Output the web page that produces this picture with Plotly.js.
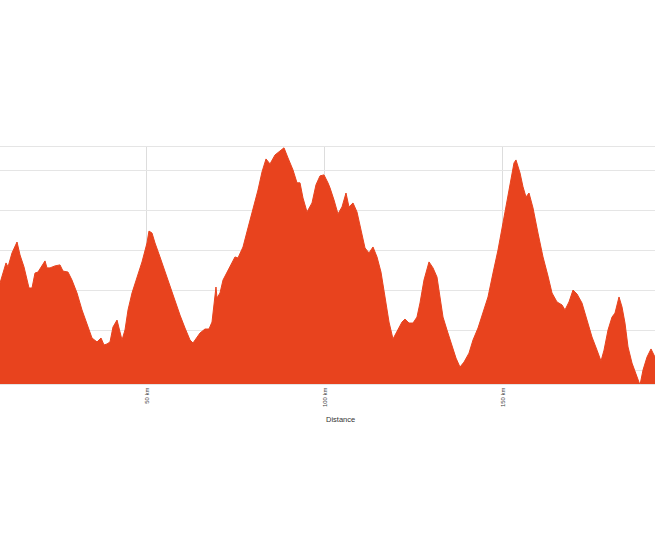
<!DOCTYPE html>
<html>
<head>
<meta charset="utf-8">
<script src="https://cdn.plot.ly/plotly-3.0.1.min.js"></script>
<style>html,body{margin:0;padding:0;background:#fff;overflow:hidden;}#chart{width:655px;height:545px;}</style>
</head>
<body>
<div id="chart"></div>
<script>
// Distance along the route (km)
const distanceKm = [8.71,10.40,10.96,12.08,13.49,14.33,15.45,16.29,16.86,17.70,18.54,19.38,20.51,21.35,21.91,22.76,24.16,25.56,26.41,27.81,28.93,30.34,31.74,33.15,34.55,35.96,37.08,37.92,38.77,39.61,40.45,41.58,42.14,42.98,43.82,44.67,45.79,47.19,48.60,50.00,50.56,51.41,52.25,53.65,55.06,56.46,57.87,59.27,60.68,62.08,62.92,63.77,64.89,66.29,67.42,68.26,69.38,69.67,70.51,71.35,72.47,73.88,74.72,75.56,76.97,78.37,79.78,81.18,82.31,83.43,84.55,85.96,87.36,88.49,89.61,91.01,92.14,92.98,93.82,94.95,96.35,97.47,98.60,99.72,100.84,101.41,102.53,103.65,104.78,105.90,106.74,107.87,108.99,110.11,111.24,112.36,113.49,114.61,115.73,116.86,117.98,119.10,120.23,121.63,122.47,123.60,124.72,125.84,126.69,127.81,129.22,130.34,131.46,132.30,133.15,134.27,135.68,136.80,137.92,139.05,140.45,141.58,142.98,144.38,145.79,147.19,148.60,150.00,151.12,152.25,153.09,153.65,154.78,155.62,156.46,157.31,158.43,159.83,161.24,162.64,163.77,165.17,166.58,167.42,168.54,169.67,170.79,172.19,173.60,175.00,176.41,177.53,178.38,179.50,180.62,181.46,182.59,183.43,184.27,185.12,186.24,187.64,188.49,189.33,190.45,191.58,192.70];
// Elevation (m)
const elevationM = [637,738,718,788,843,778,718,662,612,612,687,692,728,748,713,713,723,728,697,692,652,587,502,426,361,341,361,326,331,341,416,451,416,351,401,502,587,667,743,838,898,888,838,768,692,627,552,476,411,351,336,356,386,406,406,441,617,562,587,652,692,738,768,763,818,914,1004,1104,1195,1260,1235,1280,1300,1316,1265,1205,1140,1140,1064,994,1039,1130,1175,1180,1140,1115,1054,984,1019,1089,1019,1039,994,903,813,788,818,768,692,567,441,356,396,441,456,436,436,466,537,652,743,713,667,567,466,401,326,260,215,240,285,351,411,486,567,687,803,939,1054,1170,1240,1255,1190,1120,1069,1089,1014,888,768,672,587,542,527,502,542,602,582,537,451,366,300,245,300,401,466,486,567,517,436,316,235,165,125,200,265,306,265];
const tickValues = [50,100,150];
const tickLabels = ["50 km","100 km","150 km"];
const axisTitle = "Distance";

const trace = {
  x: distanceKm,
  y: elevationM,
  type: 'scatter',
  mode: 'lines',
  fill: 'tozeroy',
  fillcolor: 'rgb(232,67,30)',
  line: {color: 'rgb(232,67,30)', width: 1, shape: 'linear'},
  hoverinfo: 'skip'
};

const layout = {
  width: 655,
  height: 545,
  margin: {l: 0, r: 0, t: 147, b: 161, pad: 0},
  paper_bgcolor: '#fff',
  plot_bgcolor: '#fff',
  showlegend: false,
  font: {family: 'Arial, "Liberation Sans", sans-serif', color: '#444'},
  xaxis: {
    range: [8.71, 192.7],
    tickvals: tickValues,
    ticktext: tickLabels,
    tickangle: -90,
    tickfont: {size: 6, color: '#444'},
    ticks: '',
    showgrid: true,
    gridcolor: '#dddddd',
    showline: true,
    mirror: true,
    linecolor: '#e5e5e5',
    linewidth: 1,
    layer: 'below traces',
    zeroline: false
  },
  yaxis: {
    range: [130, 1320],
    tick0: 200,
    dtick: 200,
    showticklabels: false,
    ticks: '',
    showgrid: true,
    gridcolor: '#e5e5e5',
    zeroline: false,
    showline: false
  },
  annotations: [{
    text: axisTitle,
    xref: 'paper', yref: 'paper',
    x: 340/655, y: -0.148,
    xanchor: 'center', yanchor: 'middle',
    showarrow: false,
    font: {size: 7.5, color: '#333'}
  }]
};

Plotly.newPlot('chart', [trace], layout, {displayModeBar: false, staticPlot: true});
</script>
</body>
</html>
